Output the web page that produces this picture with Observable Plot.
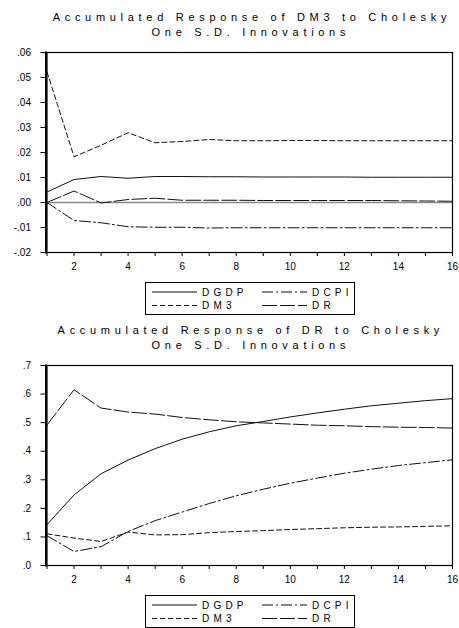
<!DOCTYPE html>
<html><head><meta charset="utf-8">
<script src="https://cdn.jsdelivr.net/npm/d3@7"></script>
<script src="https://cdn.jsdelivr.net/npm/@observablehq/plot@0.6"></script>
<style>
body{margin:0;background:#fff;font-family:"Liberation Sans",Arial,sans-serif;}
#root{position:relative;width:459px;height:628px;overflow:hidden;background:#fff}
.title{position:absolute;left:48px;width:401px;text-align:center;font-size:11px;line-height:15px;letter-spacing:4.7px;padding-left:4.7px;box-sizing:border-box;color:#000;white-space:nowrap}
.chart{position:absolute;left:0}
.legend{position:absolute;left:145px;width:210px;height:33px;box-sizing:border-box;border:1px solid #000;border-left-width:1.5px}
</style></head>
<body><div id="root"></div>
<script>
// ---- data ----
const periods = [1,2,3,4,5,6,7,8,9,10,11,12,13,14,15,16];
const seriesNames = ["DGDP","DCPI","DM3","DR"];

// Accumulated response of DM3
const dm3_DGDP = [0.0042,0.0092,0.0104,0.0097,0.0104,0.0104,0.0103,0.0103,0.0102,0.0102,0.0102,0.0102,0.0101,0.0101,0.0101,0.0101];
const dm3_DCPI = [0,-0.0072,-0.0081,-0.0097,-0.0099,-0.0099,-0.0102,-0.0101,-0.0101,-0.0101,-0.0101,-0.0101,-0.0101,-0.0101,-0.0101,-0.0101];
const dm3_DM3  = [0.0523,0.0183,0.0229,0.0279,0.0239,0.0244,0.0252,0.0247,0.0247,0.0248,0.0248,0.0247,0.0247,0.0247,0.0247,0.0247];
const dm3_DR   = [0,0.0046,-0.0002,0.0012,0.0017,0.0009,0.0009,0.0009,0.0008,0.0008,0.0008,0.0008,0.0008,0.0007,0.0006,0.0005];

// Accumulated response of DR
const dr_DGDP = [0.143,0.247,0.321,0.369,0.409,0.442,0.468,0.489,0.504,0.520,0.534,0.547,0.559,0.568,0.577,0.584];
const dr_DCPI = [0.104,0.049,0.066,0.119,0.157,0.187,0.217,0.244,0.267,0.288,0.306,0.323,0.337,0.350,0.360,0.370];
const dr_DM3  = [0.111,0.096,0.084,0.117,0.107,0.108,0.115,0.119,0.122,0.126,0.129,0.132,0.134,0.135,0.137,0.139];
const dr_DR   = [0.492,0.615,0.551,0.537,0.530,0.518,0.510,0.503,0.499,0.495,0.491,0.489,0.486,0.484,0.483,0.481];

const yTicksTop = [-0.02,-0.01,0,0.01,0.02,0.03,0.04,0.05,0.06];
const yTicksBottom = [0,0.1,0.2,0.3,0.4,0.5,0.6,0.7];

const titleTop = ["Accumulated Response of DM3 to Cholesky","One S.D. Innovations"];
const titleBottom = ["Accumulated Response of DR to Cholesky","One S.D. Innovations"];

// ---- styling ----
const dashes = {DGDP: null, DCPI: "11,3,2,3", DM3: "5,3", DR: "15,3"};

const root = document.getElementById("root");

function fmt(dec){
  return d => d3.format("." + dec + "f")(d).replace("\u2212","-").replace("0.",".");
}

function makeChart(offset, title, data, yTicks, dec, zeroLine){
  const t = document.createElement("div");
  t.className = "title";
  t.style.top = (offset + 9.5) + "px";
  t.innerHTML = title.map(s => `<div>${s}</div>`).join("");
  root.appendChild(t);

  const marks = [];
  if (zeroLine) marks.push(Plot.ruleY([0], {stroke: "#8a8a8a", strokeWidth: 1.5}));
  seriesNames.forEach((name, k) => {
    const vals = data[k];
    marks.push(Plot.line(vals, {
      x: (d, i) => periods[i], y: d => d,
      stroke: "#111", strokeWidth: 1,
      strokeDasharray: dashes[name] || undefined
    }));
  });
  marks.push(Plot.frame({stroke: "#000", strokeWidth: 1.2}));
  marks.push(Plot.frame({anchor: "left", stroke: "#000", strokeWidth: 2, dx: -1}));
  marks.push(Plot.axisY(yTicks, {tickSize: 6, tickPadding: 10, tickFormat: fmt(dec), label: null, stroke: "#000"}));
  marks.push(Plot.axisX(periods, {tickSize: 4, tickPadding: 6.5, tickFormat: d => d % 2 === 0 ? String(d) : "", label: null, stroke: "#000"}));

  const svg = Plot.plot({
    width: 459, height: 240,
    marginTop: 12, marginBottom: 28, marginLeft: 46.5, marginRight: 7,
    x: {domain: [1, 16]},
    y: {domain: [yTicks[0], yTicks[yTicks.length - 1]]},
    style: {fontFamily: "'Liberation Sans', Arial, sans-serif", fontSize: "10px", color: "#000", background: "transparent"},
    marks
  });
  const wrap = document.createElement("div");
  wrap.className = "chart";
  wrap.style.top = (offset + 40) + "px";
  wrap.appendChild(svg);
  root.appendChild(wrap);

  // legend
  const lg = document.createElement("div");
  lg.className = "legend";
  lg.style.top = (offset + 282) + "px";
  const ns = "http://www.w3.org/2000/svg";
  const s = document.createElementNS(ns, "svg");
  s.setAttribute("width", 208); s.setAttribute("height", 31);
  s.style.position = "absolute"; s.style.left = "0"; s.style.top = "0";
  const pos = [[6, 9], [116, 9], [6, 22.5], [116, 22.5]];
  seriesNames.forEach((name, k) => {
    const [x, y] = pos[k];
    const l = document.createElementNS(ns, "line");
    l.setAttribute("x1", x); l.setAttribute("x2", x + 45);
    l.setAttribute("y1", y); l.setAttribute("y2", y);
    l.setAttribute("stroke", "#111"); l.setAttribute("stroke-width", 1);
    if (dashes[name]) l.setAttribute("stroke-dasharray", dashes[name]);
    s.appendChild(l);
    const tx = document.createElementNS(ns, "text");
    tx.setAttribute("x", x + 50); tx.setAttribute("y", y + 3.6);
    tx.setAttribute("font-size", "10px");
    tx.setAttribute("font-family", "'Liberation Sans', Arial, sans-serif");
    tx.setAttribute("letter-spacing", "4.2px");
    tx.textContent = name;
    s.appendChild(tx);
  });
  lg.appendChild(s);
  root.appendChild(lg);
}

makeChart(0, titleTop, [dm3_DGDP, dm3_DCPI, dm3_DM3, dm3_DR], yTicksTop, 2, true);
makeChart(313, titleBottom, [dr_DGDP, dr_DCPI, dr_DM3, dr_DR], yTicksBottom, 1, false);
</script></body></html>
